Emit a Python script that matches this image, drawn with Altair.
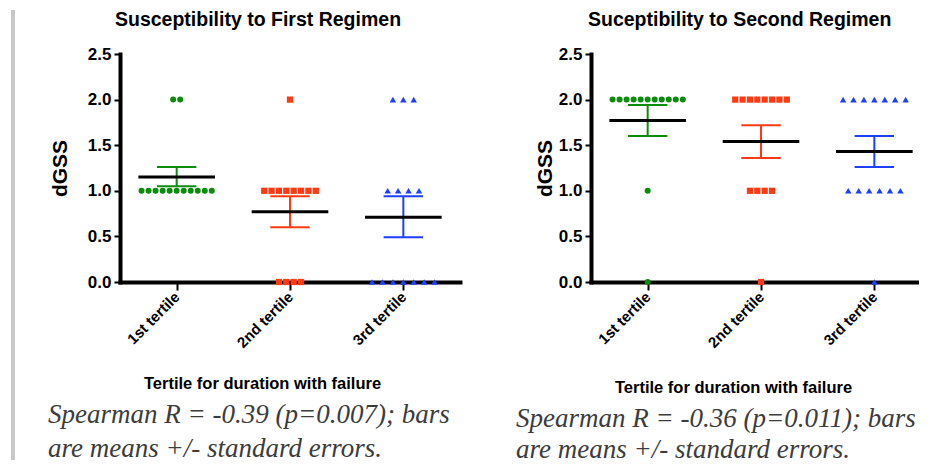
import altair as alt
import pandas as pd

# ---------------- data ----------------
categories = ["1st tertile", "2nd tertile", "3rd tertile"]
colors = ["#0c8c0c", "#ff3a12", "#1f3fff"]
shapes = ["circle", "square", "triangle-up"]
sizes = [36, 42, 85]

# individual dGSS values per tertile - first regimen
first_t1 = [2, 2, 1, 1, 1, 1, 1, 1, 1, 1, 1, 1, 1]
first_t2 = [2, 1, 1, 1, 1, 1, 1, 1, 1, 0, 0, 0, 0]
first_t3 = [2, 2, 2, 1, 1, 1, 1, 0, 0, 0, 0, 0, 0, 0]
# second regimen
second_t1 = [2, 2, 2, 2, 2, 2, 2, 2, 2, 2, 2, 1, 0]
second_t2 = [2, 2, 2, 2, 2, 2, 2, 2, 1, 1, 1, 1, 0]
second_t3 = [2, 2, 2, 2, 2, 2, 2, 1, 1, 1, 1, 1, 1, 0]

# means and standard-error limits
first_mean = [1.15, 0.77, 0.71]
first_se_low = [1.05, 0.60, 0.49]
first_se_high = [1.26, 0.94, 0.94]
second_mean = [1.77, 1.54, 1.43]
second_se_low = [1.60, 1.36, 1.26]
second_se_high = [1.94, 1.72, 1.60]

titles = ["Susceptibility to First Regimen", "Suceptibility to Second Regimen"]
x_title = "Tertile for duration with failure"
y_title = "dGSS"
captions_first = ["Spearman R = -0.39 (p=0.007); bars", "are means +/- standard errors."]
captions_second = ["Spearman R = -0.36 (p=0.011); bars", "are means +/- standard errors."]
y_ticks = [0.0, 0.5, 1.0, 1.5, 2.0, 2.5]
x_ticks = [1, 2, 3]

SANS = "Liberation Sans"
SERIF = "Liberation Serif, Times New Roman, serif"
PLOT_H = 228

label_expr = "[" + ",".join("'" + c + "'" for c in categories) + "][datum.value - 1]"


def text_layer(txt, x, y, size, font, weight="normal", style="normal", color="black"):
    return alt.Chart(pd.DataFrame({"t": [txt]})).mark_text(
        align="left", baseline="alphabetic", font=font, fontSize=size,
        fontWeight=weight, fontStyle=style, color=color
    ).encode(text="t:N", x=alt.value(x), y=alt.value(y))


def panel(groups, means, lows, highs, title, caption, width, xmax,
          title_x, ytitle_x, xtitle_y, cap_x, cap_ys, with_bar):
    pts = pd.DataFrame([
        {"cat": i + 1, "name": categories[i], "v": v}
        for i, g in enumerate(groups) for v in g
    ])
    stats = pd.DataFrame({"cat": x_ticks, "name": categories, "mean": means,
                          "lo": lows, "hi": highs})

    xscale = alt.Scale(domain=[0.5, xmax], nice=False, zero=False)
    yscale = alt.Scale(domain=[0, 2.5], nice=False, zero=False)
    xaxis = alt.Axis(values=x_ticks, labelExpr=label_expr, title=x_title,
                     titleX=142, titleY=xtitle_y, titleAlign="center",
                     titleBaseline="alphabetic", titleFontSize=16.5,
                     labelAngle=315, labelAlign="right", labelBaseline="middle",
                     labelFontSize=15, labelPadding=4, tickSize=8, labelFlush=False)
    yaxis = alt.Axis(values=y_ticks, format=".1f", title=y_title,
                     titleX=ytitle_x, titleY=PLOT_H / 2, titleAlign="center",
                     titleBaseline="middle", titleFontSize=21,
                     labelFontSize=17, labelPadding=3, tickSize=6, labelFlush=False)
    color = alt.Color("name:N", scale=alt.Scale(domain=categories, range=colors), legend=None)

    points = alt.Chart(pts).transform_window(
        rank="row_number()", groupby=["cat", "v"]
    ).transform_joinaggregate(
        n="count()", groupby=["cat", "v"]
    ).transform_calculate(
        step="datum.cat == 3 ? 0.092 : (datum.cat == 2 ? 0.065 : 0.062)"
    ).transform_calculate(
        xp="datum.cat + (datum.rank - (datum.n + 1) / 2) * datum.step"
    ).mark_point(filled=True, opacity=1).encode(
        x=alt.X("xp:Q", scale=xscale, axis=xaxis),
        y=alt.Y("v:Q", scale=yscale, axis=yaxis),
        color=color,
        shape=alt.Shape("name:N", scale=alt.Scale(domain=categories, range=shapes), legend=None),
        size=alt.Size("name:N", scale=alt.Scale(domain=categories, range=sizes), legend=None),
    )

    base = alt.Chart(stats)
    vbar = base.mark_rule(strokeWidth=2).encode(
        x=alt.X("cat:Q", scale=xscale, axis=xaxis),
        y=alt.Y("lo:Q", scale=yscale, axis=yaxis),
        y2="hi:Q",
        color=color,
    )
    caps = base.transform_fold(["lo", "hi"], as_=["k", "yv"]).transform_calculate(
        c1="datum.cat - 0.174", c2="datum.cat + 0.174"
    ).mark_rule(strokeWidth=2).encode(
        x=alt.X("c1:Q", scale=xscale, axis=xaxis),
        x2="c2:Q",
        y=alt.Y("yv:Q", scale=yscale, axis=yaxis),
        color=color,
    )
    mean = base.transform_calculate(
        m1="datum.cat - 0.338", m2="datum.cat + 0.338"
    ).mark_rule(strokeWidth=3, color="black").encode(
        x=alt.X("m1:Q", scale=xscale, axis=xaxis),
        x2="m2:Q",
        y=alt.Y("mean:Q", scale=yscale, axis=yaxis),
    )

    layers = []
    if with_bar:
        layers.append(
            alt.Chart(pd.DataFrame({"a": [0]})).mark_rule(color="#c8c8c8", strokeWidth=4).encode(
                x=alt.value(-107), y=alt.value(-44), y2=alt.value(406)
            )
        )
    layers += [vbar, caps, points, mean]
    layers.append(text_layer(title, title_x, -28, 19.5, SANS, weight="bold"))
    for line, cy in zip(caption, cap_ys):
        layers.append(text_layer(line, cap_x, cy, 27, SERIF, style="italic", color="#3c3c3c"))

    return alt.layer(*layers).properties(width=width, height=PLOT_H)


left = panel([first_t1, first_t2, first_t3], first_mean, first_se_low, first_se_high,
             titles[0], captions_first, 340, 3.5,
             title_x=-5, ytitle_x=-60, xtitle_y=106, cap_x=-72, cap_ys=[369, 403], with_bar=True)
right = panel([second_t1, second_t2, second_t3], second_mean, second_se_low, second_se_high,
              titles[1], captions_second, 328, 3.394,
              title_x=-3, ytitle_x=-46, xtitle_y=110, cap_x=-75, cap_ys=[373, 404], with_bar=False)

chart = alt.hconcat(left, right, spacing=56).properties(
    padding={"left": 3, "top": 0, "right": 0, "bottom": 5}
).configure_view(strokeWidth=0).configure_axis(
    grid=False, domainColor="black", domainWidth=4, domainCap="square",
    tickColor="black", tickWidth=2, labelColor="black", labelFont=SANS,
    labelFontWeight="bold", titleFont=SANS, titleFontWeight="bold", titleColor="black",
)

chart.save("out.html", embed_options={"renderer": "svg", "actions": False})
